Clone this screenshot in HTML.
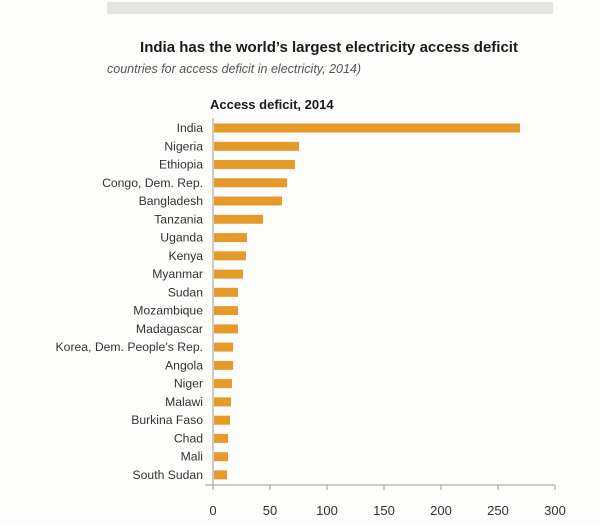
<!DOCTYPE html><html><head><style>body{margin:0;background:#fff}</style></head><body>
<svg width="600" height="523" xmlns="http://www.w3.org/2000/svg" font-family="Liberation Sans, sans-serif">
<rect width="600" height="523" fill="#fdfdfc"/>
<rect x="107" y="2" width="446" height="12" fill="#e3e6e1"/>
<text x="329" y="52" text-anchor="middle" font-size="15" font-weight="bold" fill="#1a1a1a">India has the world’s largest electricity access deficit</text>
<text x="107" y="73" font-size="12.5" font-style="italic" fill="#555">countries for access deficit in electricity, 2014)</text>
<text x="210" y="109" font-size="13" font-weight="bold" fill="#1a1a1a">Access deficit, 2014</text>
<line x1="213" y1="118" x2="213" y2="490" stroke="#999"/>
<line x1="205" y1="485" x2="555" y2="485" stroke="#999"/>
<g stroke="#999"><line x1="213" y1="485" x2="213" y2="490"/><line x1="270" y1="485" x2="270" y2="490"/><line x1="327" y1="485" x2="327" y2="490"/><line x1="384" y1="485" x2="384" y2="490"/><line x1="441" y1="485" x2="441" y2="490"/><line x1="498" y1="485" x2="498" y2="490"/><line x1="555" y1="485" x2="555" y2="490"/></g>
<g font-size="13" fill="#333" text-anchor="middle"><text x="213" y="515">0</text><text x="270" y="515">50</text><text x="327" y="515">100</text><text x="384" y="515">150</text><text x="441" y="515">200</text><text x="498" y="515">250</text><text x="555" y="515">300</text></g>
<g font-size="12.2" fill="#333" text-anchor="end">
<text x="203" y="132">India</text>
<text x="203" y="150.3">Nigeria</text>
<text x="203" y="168.5">Ethiopia</text>
<text x="203" y="186.8">Congo, Dem. Rep.</text>
<text x="203" y="205">Bangladesh</text>
<text x="203" y="223.3">Tanzania</text>
<text x="203" y="241.6">Uganda</text>
<text x="203" y="259.8">Kenya</text>
<text x="203" y="278.1">Myanmar</text>
<text x="203" y="296.3">Sudan</text>
<text x="203" y="314.6">Mozambique</text>
<text x="203" y="332.9">Madagascar</text>
<text x="203" y="351.1">Korea, Dem. People’s Rep.</text>
<text x="203" y="369.4">Angola</text>
<text x="203" y="387.6">Niger</text>
<text x="203" y="405.9">Malawi</text>
<text x="203" y="424.2">Burkina Faso</text>
<text x="203" y="442.4">Chad</text>
<text x="203" y="460.7">Mali</text>
<text x="203" y="478.9">South Sudan</text>
</g>
<g fill="#e59a2a">
<rect x="214" y="123.5" width="306" height="9"/>
<rect x="214" y="141.8" width="85" height="9"/>
<rect x="214" y="160" width="81" height="9"/>
<rect x="214" y="178.3" width="73" height="9"/>
<rect x="214" y="196.5" width="68" height="9"/>
<rect x="214" y="214.8" width="49" height="9"/>
<rect x="214" y="233.1" width="33" height="9"/>
<rect x="214" y="251.3" width="32" height="9"/>
<rect x="214" y="269.6" width="29" height="9"/>
<rect x="214" y="287.8" width="24" height="9"/>
<rect x="214" y="306.1" width="24" height="9"/>
<rect x="214" y="324.4" width="24" height="9"/>
<rect x="214" y="342.6" width="19" height="9"/>
<rect x="214" y="360.9" width="19" height="9"/>
<rect x="214" y="379.1" width="18" height="9"/>
<rect x="214" y="397.4" width="17" height="9"/>
<rect x="214" y="415.7" width="16" height="9"/>
<rect x="214" y="433.9" width="14" height="9"/>
<rect x="214" y="452.2" width="14" height="9"/>
<rect x="214" y="470.4" width="13" height="9"/>
</g>
</svg></body></html>
